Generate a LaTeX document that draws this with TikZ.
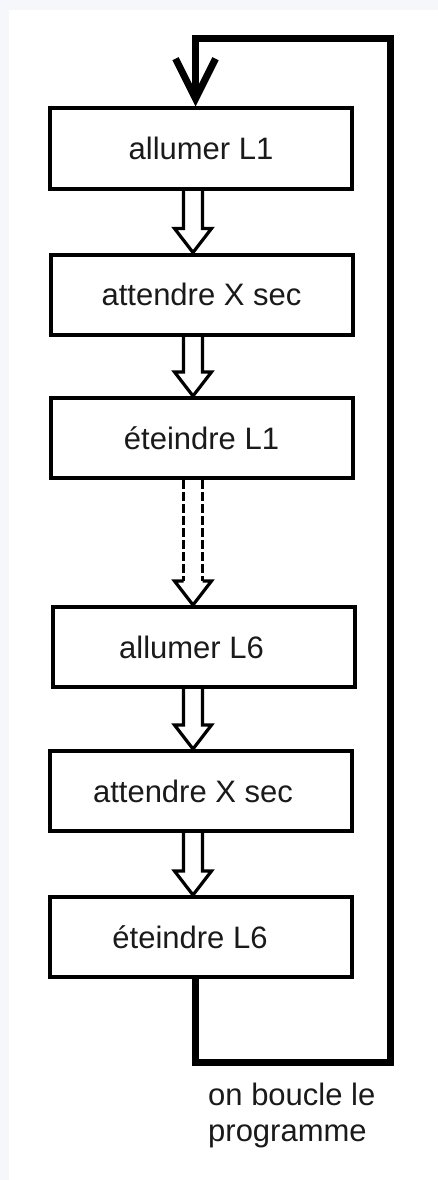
\documentclass[tikz,border=0pt]{standalone}
\usepackage{fontspec}
\setmainfont{Liberation Sans}
\usetikzlibrary{arrows.meta,calc}
\definecolor{pagebg}{HTML}{F5F7FB}
\definecolor{ink}{HTML}{1A1A1A}
\begin{document}
\begin{tikzpicture}[x=1pt,y=-1pt,
  stepbox/.style={draw=black,line width=4pt,fill=white,minimum width=302pt,minimum height=80pt,inner sep=0pt,font=\fontsize{31}{36}\selectfont,text=ink},
  hollow/.style={draw=black,line width=3.2pt,line join=miter},
  hollowdash/.style={draw=black,line width=3.6pt,dash pattern=on 9pt off 3pt},
  loopline/.style={draw=black,line width=7pt,line join=miter}]
\useasboundingbox (0,0) rectangle (438,1180);
\fill[pagebg] (0,0) rectangle (438,1180);
\fill[white] (9,10) rectangle (438,1180);

\node[stepbox] (b1) at (201,148.5) {allumer L1};
\node[stepbox] (b2) at (201.5,294.5) {attendre X sec};
\node[stepbox] (b3) at (201.5,438) {éteindre L1};
\node[stepbox] (b4) at (203.5,647) {\hspace*{-24pt}allumer L6};
\node[stepbox] (b5) at (201,791) {\hspace*{-16pt}attendre X sec};
\node[stepbox] (b6) at (201,937) {\hspace*{-22pt}éteindre L6};

\coordinate (axL) at (183.5,0);
\coordinate (axC) at (193,0);
\coordinate (axR) at (202.5,0);

% hollow double arrows
\foreach \a/\b in {b1/b2,b2/b3,b4/b5,b5/b6}{
  \draw[hollow] (\a.south -| axL) -- ($(\b.north -| axL)+(0,-24)$)
    -- ($(\b.north -| axC)+(-18.5,-24)$) -- (\b.north -| axC)
    -- ($(\b.north -| axC)+(18.5,-24)$) -- ($(\b.north -| axR)+(0,-24)$)
    -- (\a.south -| axR);
}
% dashed hollow arrow
\draw[hollowdash] (b3.south -| axL) -- ($(b4.north -| axL)+(0,-24)$);
\draw[hollowdash] (b3.south -| axR) -- ($(b4.north -| axR)+(0,-24)$);
\draw[hollow] ($(b4.north -| axL)+(0,-24)$)
    -- ($(b4.north -| axC)+(-18.5,-24)$) -- (b4.north -| axC)
    -- ($(b4.north -| axC)+(18.5,-24)$) -- ($(b4.north -| axR)+(0,-24)$);

% loop back
\coordinate (loopBL) at (195.5,1062);
\coordinate (loopBR) at (390,1062);
\coordinate (loopTR) at (390,39);
\coordinate (loopTL) at (195.5,39);
\draw[loopline,-{Straight Barb[length=40pt,width=40pt]}] (b6.south -| loopBL) -- (loopBL) -- (loopBR) -- (loopTR) -- (loopTL) -- (b1.north -| loopTL);

\node[anchor=north west,align=left,inner sep=0pt,font=\fontsize{31}{36}\selectfont,text=ink] (lbl) at (208,1083) {on boucle le\\programme};
\end{tikzpicture}
\end{document}
